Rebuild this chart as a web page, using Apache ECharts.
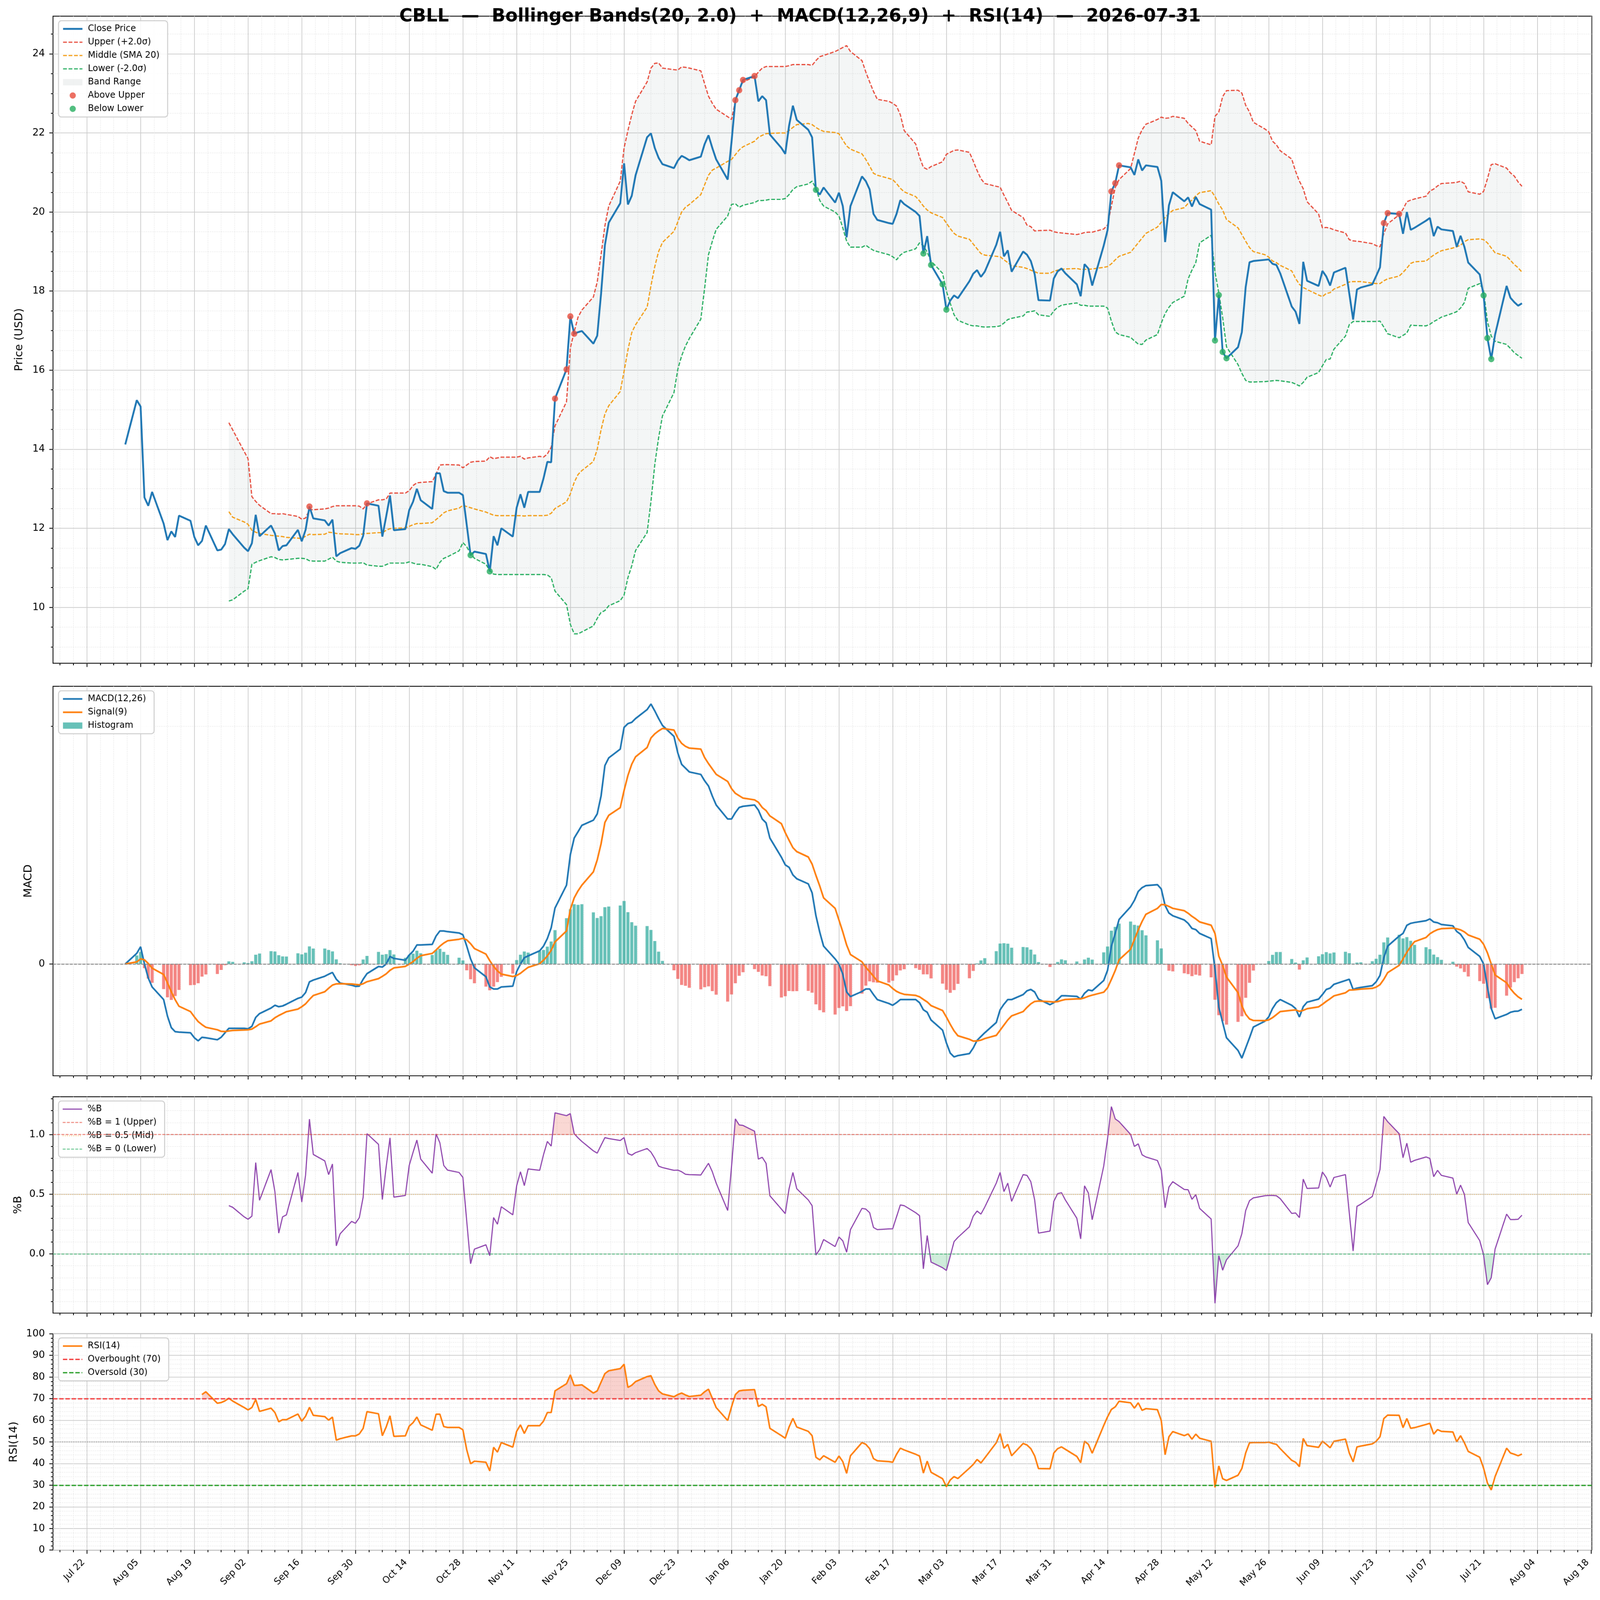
<!DOCTYPE html>
<html>
<head>
<meta charset="utf-8">
<title>CBLL - Bollinger Bands + MACD + RSI</title>
<script src="https://cdn.jsdelivr.net/npm/echarts@6.0.0/dist/echarts.min.js"></script>
<style>
  html, body { margin: 0; padding: 0; background: #fff; overflow: hidden; }
  #chart { width: 4378px; height: 4322px; transform-origin: 0 0; }
</style>
</head>
<body>
<div id="chart"></div>
<script>
// trading days are weekdays between these two dates
const firstDay = '2025-08-01';
const lastDay = '2026-07-31';

// x tick labels (every 14 days)
const xTickDates = [
  '2025-07-22', '2025-08-05', '2025-08-19', '2025-09-02', '2025-09-16', '2025-09-30',
  '2025-10-14', '2025-10-28', '2025-11-11', '2025-11-25', '2025-12-09', '2025-12-23',
  '2026-01-06', '2026-01-20', '2026-02-03', '2026-02-17', '2026-03-03', '2026-03-17',
  '2026-03-31', '2026-04-14', '2026-04-28', '2026-05-12', '2026-05-26', '2026-06-09',
  '2026-06-23', '2026-07-07', '2026-07-21', '2026-08-04', '2026-08-18'
];
const priceTicks = [10, 12, 14, 16, 18, 20, 22, 24];
const macdTicks = [0];
const pctBTicks = [0, 0.5, 1.0];
const rsiTicks = [0, 10, 20, 30, 40, 50, 60, 70, 80, 90, 100];

// close price, one value per trading day
const close = [
  14.12,
  15.24, 15.08, 12.78, 12.57, 12.92,   // Aug 4
  12.12, 11.70, 11.92, 11.78, 12.32,   // Aug 11
  12.19, 11.78, 11.57, 11.68, 12.07,   // Aug 18
  11.44, 11.46, 11.60, 11.98, 11.85,   // Aug 25
  11.51, 11.42, 11.62, 12.34, 11.80,   // Sep 1
  12.07, 11.87, 11.44, 11.55, 11.57,   // Sep 8
  11.96, 11.67, 11.96, 12.55, 12.25,   // Sep 15
  12.20, 12.07, 12.22, 11.29, 11.37,   // Sep 22
  11.50, 11.48, 11.56, 11.81, 12.63,   // Sep 29
  12.57, 11.79, 12.30, 12.83, 11.95,   // Oct 6
  11.98, 12.46, 12.67, 13.00, 12.71,   // Oct 13
  12.49, 13.39, 13.39, 12.94, 12.90,   // Oct 20
  12.90, 12.84, 12.08, 11.32, 11.41,   // Oct 27
  11.35, 10.91, 11.80, 11.57, 12.00,   // Nov 3
  11.79, 12.52, 12.86, 12.52, 12.92,   // Nov 10
  12.92, 13.26, 13.68, 13.67, 15.28,   // Nov 17
  16.02, 17.36, 16.92, 16.96, 16.99,   // Nov 24
  16.67, 16.87, 17.93, 19.16, 19.73,   // Dec 1
  20.22, 21.23, 20.19, 20.41, 20.93,   // Dec 8
  21.89, 21.99, 21.62, 21.37, 21.21,   // Dec 15
  21.11, 21.30, 21.42, 21.37, 21.31,   // Dec 22
  21.40, 21.72, 21.94, 21.62, 21.33,   // Dec 29
  20.82, 21.77, 22.83, 23.08, 23.34,   // Jan 5
  23.44, 22.80, 22.93, 22.83, 21.96,   // Jan 12
  21.62, 21.47, 22.18, 22.69, 22.33,   // Jan 19
  22.08, 21.89, 20.56, 20.44, 20.62,   // Jan 26
  20.24, 20.49, 20.15, 19.36, 20.15,   // Feb 2
  20.90, 20.78, 20.57, 19.95, 19.80,   // Feb 9
  19.72, 19.70, 19.95, 20.30, 20.20,   // Feb 16
  20.00, 19.90, 18.95, 19.39, 18.66,   // Feb 23
  18.17, 17.53, 17.76, 17.89, 17.82,   // Mar 2
  18.25, 18.44, 18.53, 18.36, 18.49,   // Mar 9
  19.17, 19.50, 18.88, 19.03, 18.49,   // Mar 16
  19.00, 18.92, 18.76, 18.43, 17.77,   // Mar 23
  17.76, 18.32, 18.50, 18.57, 18.45,   // Mar 30
  18.17, 17.87, 18.68, 18.57, 18.14,   // Apr 6
  19.15, 19.54, 20.52, 20.73, 21.18,   // Apr 13
  21.13, 20.94, 21.33, 21.05, 21.18,   // Apr 20
  21.14, 20.79, 19.24, 20.17, 20.50,   // Apr 27
  20.27, 20.37, 20.14, 20.38, 20.20,   // May 4
  20.06, 16.75, 17.90, 16.46, 16.30,   // May 11
  16.58, 16.96, 18.10, 18.73, 18.76,   // May 18
  18.79, 18.80, 18.69, 18.66, 18.45,   // May 25
  17.61, 17.48, 17.17, 18.74, 18.26,   // Jun 1
  18.13, 18.51, 18.37, 18.14, 18.47,   // Jun 8
  18.59, 17.94, 17.28, 18.04, 18.09,   // Jun 15
  18.17, 18.38, 18.60, 19.72, 19.97,   // Jun 22
  19.95, 19.45, 20.00, 19.55, 19.60,   // Jun 29
  19.78, 19.85, 19.39, 19.63, 19.56,   // Jul 6
  19.52, 19.12, 19.40, 19.12, 18.72,   // Jul 13
  18.42, 17.89, 16.81, 16.28, 16.90,   // Jul 20
  18.13, 17.83, 17.72, 17.63, 17.69    // Jul 27
];

// bollinger bands start on the 20th trading day (2025-08-28)
const bandStart = 19;
const upper = [
  14.67, 14.49,
  13.94, 13.76, 12.80, 12.68, 12.58,   // Sep 1
  12.37, 12.37, 12.36, 12.37, 12.35,   // Sep 8
  12.30, 12.23, 12.26, 12.47, 12.47,   // Sep 15
  12.49, 12.51, 12.55, 12.57, 12.57,   // Sep 22
  12.57, 12.57, 12.56, 12.49, 12.62,   // Sep 29
  12.72, 12.72, 12.74, 12.89, 12.89,   // Oct 6
  12.89, 12.95, 13.08, 13.15, 13.16,   // Oct 13
  13.18, 13.37, 13.60, 13.61, 13.61,   // Oct 20
  13.60, 13.53, 13.60, 13.67, 13.69,   // Oct 27
  13.70, 13.81, 13.76, 13.78, 13.80,   // Nov 3
  13.80, 13.80, 13.82, 13.75, 13.78,   // Nov 10
  13.82, 13.80, 13.88, 14.05, 14.59,   // Nov 17
  15.20, 16.56, 16.97, 17.34, 17.52,   // Nov 24
  17.85, 18.23, 18.92, 19.65, 20.15,   // Dec 1
  20.78, 21.62, 22.06, 22.46, 22.80,   // Dec 8
  23.29, 23.64, 23.76, 23.77, 23.64,   // Dec 15
  23.60, 23.59, 23.67, 23.66, 23.64,   // Dec 22
  23.57, 23.24, 22.93, 22.75, 22.60,   // Dec 29
  22.41, 22.34, 22.80, 23.10, 23.29,   // Jan 5
  23.42, 23.54, 23.64, 23.68, 23.68,   // Jan 12
  23.68, 23.68, 23.70, 23.73, 23.73,   // Jan 19
  23.73, 23.71, 23.83, 23.93, 23.96,   // Jan 26
  24.06, 24.11, 24.16, 24.21, 24.06,   // Feb 2
  23.83, 23.54, 23.29, 23.05, 22.85,   // Feb 9
  22.80, 22.75, 22.68, 22.46, 22.06,   // Feb 16
  21.72, 21.39, 21.13, 21.08, 21.15,   // Feb 23
  21.27, 21.46, 21.51, 21.56, 21.57,   // Mar 2
  21.51, 21.29, 21.05, 20.84, 20.72,   // Mar 9
  20.65, 20.63, 20.43, 20.24, 20.04,   // Mar 16
  19.86, 19.67, 19.63, 19.52, 19.53,   // Mar 23
  19.54, 19.50, 19.48, 19.47, 19.46,   // Mar 30
  19.43, 19.45, 19.48, 19.49, 19.49,   // Apr 6
  19.57, 19.67, 20.15, 20.62, 20.82,   // Apr 13
  21.10, 21.48, 21.87, 22.08, 22.22,   // Apr 20
  22.34, 22.40, 22.37, 22.38, 22.42,   // Apr 27
  22.37, 22.24, 22.15, 22.06, 21.79,   // May 4
  21.70, 22.42, 22.53, 22.92, 23.07,   // May 11
  23.08, 23.01, 22.70, 22.53, 22.27,   // May 18
  22.10, 22.03, 21.79, 21.70, 21.55,   // May 25
  21.34, 21.03, 20.78, 20.59, 20.26,   // Jun 1
  19.95, 19.60, 19.61, 19.59, 19.55,   // Jun 8
  19.47, 19.30, 19.27, 19.26, 19.25,   // Jun 15
  19.20, 19.15, 19.12, 19.45, 19.70,   // Jun 22
  19.93, 20.07, 20.26, 20.30, 20.33,   // Jun 29
  20.40, 20.53, 20.58, 20.66, 20.72,   // Jul 6
  20.74, 20.75, 20.78, 20.72, 20.51,   // Jul 13
  20.45, 20.52, 20.84, 21.20, 21.22,   // Jul 20
  21.11, 20.99, 20.91, 20.76, 20.65    // Jul 27
];
const middle = [
  12.42, 12.28,
  12.16, 12.10, 11.95, 11.90, 11.87,   // Sep 1
  11.82, 11.81, 11.80, 11.79, 11.77,   // Sep 8
  11.75, 11.74, 11.80, 11.85, 11.84,   // Sep 15
  11.85, 11.90, 11.89, 11.87, 11.86,   // Sep 22
  11.85, 11.84, 11.84, 11.86, 11.87,   // Sep 29
  11.89, 11.89, 11.95, 11.99, 12.00,   // Oct 6
  12.01, 12.05, 12.09, 12.12, 12.12,   // Oct 13
  12.14, 12.22, 12.30, 12.39, 12.44,   // Oct 20
  12.51, 12.58, 12.55, 12.52, 12.49,   // Oct 27
  12.41, 12.37, 12.33, 12.32, 12.32,   // Nov 3
  12.32, 12.32, 12.32, 12.31, 12.32,   // Nov 10
  12.32, 12.32, 12.33, 12.38, 12.50,   // Nov 17
  12.67, 12.87, 13.16, 13.36, 13.46,   // Nov 24
  13.69, 14.00, 14.49, 14.89, 15.10,   // Dec 1
  15.46, 15.97, 16.51, 16.95, 17.15,   // Dec 8
  17.59, 18.13, 18.62, 19.00, 19.23,   // Dec 15
  19.51, 19.75, 20.00, 20.12, 20.19,   // Dec 22
  20.44, 20.69, 20.93, 21.06, 21.11,   // Dec 29
  21.28, 21.33, 21.45, 21.57, 21.65,   // Jan 5
  21.79, 21.89, 21.94, 21.98, 21.99,   // Jan 12
  22.00, 22.00, 22.06, 22.14, 22.21,   // Jan 19
  22.24, 22.21, 22.14, 22.08, 22.04,   // Jan 26
  22.01, 21.98, 21.82, 21.67, 21.59,   // Feb 2
  21.47, 21.33, 21.16, 20.98, 20.93,   // Feb 9
  20.85, 20.82, 20.72, 20.60, 20.51,   // Feb 16
  20.39, 20.28, 20.15, 20.05, 19.98,   // Feb 23
  19.86, 19.72, 19.58, 19.46, 19.39,   // Mar 2
  19.31, 19.19, 19.07, 18.95, 18.91,   // Mar 9
  18.88, 18.87, 18.79, 18.72, 18.64,   // Mar 16
  18.60, 18.57, 18.53, 18.49, 18.45,   // Mar 23
  18.45, 18.50, 18.53, 18.55, 18.56,   // Mar 30
  18.57, 18.55, 18.55, 18.55, 18.56,   // Apr 6
  18.60, 18.62, 18.69, 18.79, 18.88,   // Apr 13
  18.98, 19.10, 19.22, 19.34, 19.46,   // Apr 20
  19.62, 19.74, 19.86, 19.96, 20.04,   // Apr 27
  20.11, 20.22, 20.30, 20.41, 20.49,   // May 4
  20.54, 20.39, 20.20, 20.05, 19.81,   // May 11
  19.60, 19.43, 19.26, 19.10, 19.00,   // May 18
  18.92, 18.86, 18.76, 18.72, 18.65,   // May 25
  18.51, 18.32, 18.17, 18.09, 18.04,   // Jun 1
  17.90, 17.86, 17.94, 17.96, 18.05,   // Jun 8
  18.17, 18.23, 18.24, 18.24, 18.24,   // Jun 15
  18.20, 18.19, 18.19, 18.26, 18.31,   // Jun 22
  18.38, 18.47, 18.58, 18.70, 18.74,   // Jun 29
  18.76, 18.84, 18.91, 18.97, 19.02,   // Jul 6
  19.09, 19.12, 19.16, 19.25, 19.30,   // Jul 13
  19.32, 19.30, 19.22, 19.09, 18.97,   // Jul 20
  18.88, 18.78, 18.67, 18.59, 18.48    // Jul 27
];
const lower = [
  10.16, 10.19,
  10.41, 10.47, 11.09, 11.14, 11.18,   // Sep 1
  11.28, 11.26, 11.21, 11.20, 11.21,   // Sep 8
  11.24, 11.24, 11.23, 11.18, 11.17,   // Sep 15
  11.17, 11.22, 11.27, 11.17, 11.14,   // Sep 22
  11.12, 11.12, 11.12, 11.13, 11.07,   // Sep 29
  11.04, 11.04, 11.08, 11.12, 11.12,   // Oct 6
  11.12, 11.15, 11.12, 11.09, 11.09,   // Oct 13
  11.03, 10.96, 11.14, 11.24, 11.28,   // Oct 20
  11.43, 11.64, 11.53, 11.36, 11.24,   // Oct 27
  11.09, 10.93, 10.84, 10.83, 10.83,   // Nov 3
  10.83, 10.83, 10.83, 10.83, 10.83,   // Nov 10
  10.83, 10.83, 10.82, 10.75, 10.41,   // Nov 17
  10.07, 9.57, 9.33, 9.33, 9.38,       // Nov 24
  9.53, 9.72, 9.87, 9.92, 10.04,       // Dec 1
  10.17, 10.31, 10.75, 11.05, 11.44,   // Dec 8
  11.89, 12.67, 13.61, 14.29, 14.84,   // Dec 15
  15.43, 16.02, 16.36, 16.61, 16.80,   // Dec 22
  17.29, 18.08, 18.92, 19.26, 19.56,   // Dec 29
  19.90, 20.19, 20.21, 20.12, 20.17,   // Jan 5
  20.24, 20.29, 20.29, 20.30, 20.32,   // Jan 12
  20.32, 20.34, 20.44, 20.57, 20.64,   // Jan 19
  20.71, 20.78, 20.60, 20.29, 20.15,   // Jan 26
  20.00, 19.90, 19.60, 19.26, 19.11,   // Feb 2
  19.11, 19.16, 19.09, 19.03, 19.00,   // Feb 9
  18.92, 18.87, 18.79, 18.91, 18.98,   // Feb 16
  19.07, 19.22, 19.15, 18.98, 18.76,   // Feb 23
  18.45, 18.00, 17.69, 17.40, 17.26,   // Mar 2
  17.14, 17.12, 17.12, 17.10, 17.09,   // Mar 9
  17.10, 17.12, 17.19, 17.28, 17.31,   // Mar 16
  17.37, 17.47, 17.48, 17.50, 17.40,   // Mar 23
  17.36, 17.50, 17.59, 17.64, 17.66,   // Mar 30
  17.70, 17.64, 17.64, 17.62, 17.62,   // Apr 6
  17.62, 17.57, 17.24, 16.97, 16.90,   // Apr 13
  16.83, 16.74, 16.66, 16.65, 16.76,   // Apr 20
  16.90, 17.19, 17.43, 17.59, 17.71,   // Apr 27
  17.87, 18.31, 18.53, 18.72, 19.22,   // May 4
  19.41, 18.48, 17.95, 17.33, 16.59,   // May 11
  16.14, 15.92, 15.74, 15.70, 15.70,   // May 18
  15.71, 15.72, 15.73, 15.74, 15.73,   // May 25
  15.69, 15.65, 15.60, 15.69, 15.82,   // Jun 1
  15.94, 16.11, 16.27, 16.28, 16.53,   // Jun 8
  16.86, 17.15, 17.23, 17.23, 17.23,   // Jun 15
  17.23, 17.23, 17.24, 17.09, 16.92,   // Jun 22
  16.82, 16.88, 16.94, 17.14, 17.13,   // Jun 29
  17.12, 17.16, 17.23, 17.28, 17.34,   // Jul 6
  17.44, 17.48, 17.57, 17.71, 18.07,   // Jul 13
  18.19, 18.01, 17.23, 16.86, 16.73,   // Jul 20
  16.65, 16.55, 16.44, 16.37, 16.30    // Jul 27
];

// close outside the bands (marked with dots)
const aboveUpperDates = [
  '2025-09-18', '2025-10-03', '2025-11-21', '2025-11-24', '2025-11-25', '2025-11-26',
  '2026-01-07', '2026-01-08', '2026-01-09', '2026-01-12', '2026-04-15', '2026-04-16',
  '2026-04-17', '2026-06-25', '2026-06-26', '2026-06-29'
];
const belowLowerDates = [
  '2025-10-30', '2025-11-04', '2026-01-28', '2026-02-25', '2026-02-27', '2026-03-02',
  '2026-03-03', '2026-05-12', '2026-05-13', '2026-05-14', '2026-05-15', '2026-07-21',
  '2026-07-22', '2026-07-23'
];

// MACD(12,26), signal(9) and histogram, one value per trading day
const macd = [
  0,
  0.090, 0.145, 0.000, -0.118, -0.193,
  -0.299, -0.438, -0.535, -0.569, -0.573,
  -0.578, -0.620, -0.646, -0.616, -0.620,
  -0.637, -0.616, -0.578, -0.541, -0.541,
  -0.541, -0.545, -0.524, -0.449, -0.417,
  -0.370, -0.347, -0.359, -0.353, -0.338,
  -0.289, -0.278, -0.240, -0.150, -0.135,
  -0.103, -0.086, -0.071, -0.128, -0.160,
  -0.178, -0.188, -0.186, -0.128, -0.081,
  -0.021, -0.026, 0.000, 0.064, 0.047,
  0.032, 0.075, 0.107, 0.160, 0.160,
  0.165, 0.235, 0.278, 0.278, 0.272,
  0.261, 0.246, 0.150, 0.043, -0.032,
  -0.107, -0.193, -0.210, -0.210, -0.193,
  -0.186, -0.064, 0.000, 0.053, 0.068,
  0.111, 0.150, 0.214, 0.304, 0.471,
  0.663, 0.920, 1.059, 1.112, 1.166,
  1.209, 1.262, 1.412, 1.668, 1.733,
  1.807, 1.989, 2.021, 2.032, 2.064,
  2.139, 2.186, 2.128, 2.064, 2.006,
  1.914, 1.775, 1.679, 1.647, 1.615,
  1.594, 1.540, 1.497, 1.412, 1.337,
  1.219, 1.219, 1.273, 1.316, 1.326,
  1.337, 1.294, 1.219, 1.187, 1.059,
  0.898, 0.834, 0.813, 0.749, 0.717,
  0.674, 0.599, 0.406, 0.267, 0.150,
  0.043, 0.000, -0.086, -0.235, -0.274,
  -0.231, -0.210, -0.210, -0.257, -0.299,
  -0.332, -0.347, -0.325, -0.299, -0.299,
  -0.299, -0.325, -0.385, -0.406, -0.471,
  -0.556, -0.663, -0.749, -0.781, -0.770,
  -0.753, -0.706, -0.642, -0.610, -0.578,
  -0.492, -0.385, -0.338, -0.299, -0.299,
  -0.257, -0.225, -0.214, -0.235, -0.295,
  -0.342, -0.325, -0.299, -0.267, -0.267,
  -0.272, -0.295, -0.246, -0.218, -0.225,
  -0.139, -0.053, 0.150, 0.257, 0.374,
  0.481, 0.535, 0.610, 0.642, 0.659,
  0.667, 0.631, 0.492, 0.428, 0.406,
  0.370, 0.342, 0.299, 0.289, 0.257,
  0.214, -0.043, -0.364, -0.492, -0.620,
  -0.727, -0.791, -0.706, -0.620, -0.530,
  -0.481, -0.445, -0.374, -0.325, -0.299,
  -0.347, -0.374, -0.445, -0.359, -0.321,
  -0.295, -0.257, -0.214, -0.203, -0.171,
  -0.139, -0.128, -0.214, -0.203, -0.197,
  -0.182, -0.150, -0.096, 0.053, 0.150,
  0.235, 0.257, 0.325, 0.342, 0.349,
  0.364, 0.379, 0.353, 0.347, 0.332,
  0.321, 0.274, 0.250, 0.203, 0.139,
  0.064, 0.000, -0.193, -0.374, -0.460,
  -0.424, -0.406, -0.398, -0.396, -0.381
];
const signal = [
  0,
  0.018, 0.043, 0.035, 0.004, -0.035,
  -0.088, -0.158, -0.233, -0.300, -0.355,
  -0.400, -0.444, -0.484, -0.510, -0.532,
  -0.553, -0.566, -0.568, -0.563, -0.559,
  -0.555, -0.553, -0.547, -0.527, -0.505,
  -0.478, -0.452, -0.433, -0.417, -0.401,
  -0.379, -0.359, -0.335, -0.298, -0.265,
  -0.233, -0.204, -0.177, -0.167, -0.166,
  -0.168, -0.172, -0.175, -0.166, -0.149,
  -0.123, -0.104, -0.083, -0.053, -0.033,
  -0.020, -0.001, 0.020, 0.048, 0.070,
  0.089, 0.118, 0.150, 0.176, 0.195,
  0.208, 0.216, 0.203, 0.171, 0.130,
  0.083, 0.028, -0.020, -0.058, -0.085,
  -0.105, -0.097, -0.078, -0.052, -0.028,
  0.003, 0.032, 0.068, 0.115, 0.186,
  0.278, 0.460, 0.556, 0.615, 0.663,
  0.775, 0.875, 1.010, 1.190, 1.250,
  1.315, 1.459, 1.585, 1.680, 1.742,
  1.820, 1.900, 1.935, 1.960, 1.980,
  1.967, 1.900, 1.855, 1.830, 1.815,
  1.807, 1.735, 1.685, 1.640, 1.595,
  1.535, 1.475, 1.435, 1.415, 1.395,
  1.380, 1.360, 1.316, 1.290, 1.245,
  1.180, 1.105, 1.040, 0.978, 0.945,
  0.900, 0.840, 0.745, 0.655, 0.556,
  0.468, 0.370, 0.270, 0.160, 0.080,
  0.018, -0.028, -0.064, -0.103, -0.142,
  -0.176, -0.206, -0.230, -0.245, -0.255,
  -0.264, -0.276, -0.298, -0.319, -0.350,
  -0.391, -0.446, -0.507, -0.562, -0.603,
  -0.633, -0.648, -0.647, -0.640, -0.627,
  -0.600, -0.557, -0.513, -0.470, -0.436,
  -0.400, -0.365, -0.335, -0.315, -0.311,
  -0.317, -0.320, -0.316, -0.306, -0.298,
  -0.293, -0.293, -0.284, -0.271, -0.262,
  -0.237, -0.200, -0.130, -0.055, 0.035,
  0.124, 0.206, 0.287, 0.358, 0.418,
  0.468, 0.500, 0.498, 0.484, 0.468,
  0.448, 0.427, 0.401, 0.379, 0.354,
  0.326, 0.257, 0.066, -0.012, -0.110,
  -0.241, -0.351, -0.422, -0.462, -0.475,
  -0.476, -0.470, -0.451, -0.426, -0.400,
  -0.389, -0.386, -0.398, -0.390, -0.376,
  -0.360, -0.339, -0.314, -0.292, -0.268,
  -0.242, -0.219, -0.218, -0.215, -0.211,
  -0.205, -0.194, -0.174, -0.129, -0.073,
  -0.011, 0.042, 0.099, 0.147, 0.188,
  0.223, 0.254, 0.274, 0.289, 0.297,
  0.302, 0.296, 0.287, 0.270, 0.244,
  0.208, 0.166, 0.094, 0.000, -0.092,
  -0.158, -0.208, -0.246, -0.276, -0.297
];
const hist = [
  0,
  0.072, 0.102, -0.035, -0.122, -0.158,
  -0.211, -0.280, -0.302, -0.269, -0.218,
  -0.178, -0.176, -0.162, -0.106, -0.088,
  -0.084, -0.050, -0.010, 0.022, 0.018,
  0.014, 0.008, 0.023, 0.078, 0.088,
  0.108, 0.105, 0.074, 0.064, 0.063,
  0.090, 0.081, 0.095, 0.148, 0.130,
  0.130, 0.118, 0.106, 0.039, 0.006,
  -0.010, -0.016, -0.011, 0.038, 0.068,
  0.102, 0.078, 0.083, 0.117, 0.080,
  0.052, 0.076, 0.087, 0.112, 0.090,
  0.076, 0.117, 0.128, 0.102, 0.077,
  0.053, 0.030, -0.053, -0.128, -0.162,
  -0.190, -0.221, -0.190, -0.152, -0.108,
  -0.081, 0.033, 0.078, 0.105, 0.096,
  0.108, 0.118, 0.146, 0.189, 0.285,
  0.385, 0.460, 0.503, 0.497, 0.503,
  0.434, 0.387, 0.402, 0.478, 0.483,
  0.492, 0.530, 0.436, 0.352, 0.322,
  0.319, 0.286, 0.193, 0.104, 0.026,
  -0.053, -0.125, -0.176, -0.183, -0.200,
  -0.213, -0.195, -0.188, -0.228, -0.258,
  -0.316, -0.256, -0.162, -0.099, -0.069,
  -0.043, -0.066, -0.097, -0.103, -0.186,
  -0.282, -0.271, -0.227, -0.229, -0.228,
  -0.226, -0.241, -0.339, -0.388, -0.406,
  -0.425, -0.370, -0.356, -0.395, -0.354,
  -0.249, -0.182, -0.146, -0.154, -0.157,
  -0.156, -0.141, -0.095, -0.054, -0.044,
  -0.035, -0.049, -0.087, -0.087, -0.121,
  -0.165, -0.217, -0.242, -0.219, -0.167,
  -0.120, -0.058, 0.005, 0.030, 0.049,
  0.108, 0.172, 0.175, 0.171, 0.137,
  0.143, 0.140, 0.121, 0.080, 0.016,
  -0.025, -0.005, 0.017, 0.039, 0.031,
  0.021, -0.002, 0.038, 0.053, 0.037,
  0.098, 0.147, 0.280, 0.312, 0.339,
  0.357, 0.329, 0.323, 0.284, 0.241,
  0.199, 0.131, -0.006, -0.056, -0.062,
  -0.078, -0.085, -0.102, -0.090, -0.097,
  -0.112, -0.300, -0.430, -0.480, -0.510,
  -0.486, -0.440, -0.284, -0.158, -0.055,
  -0.005, 0.025, 0.077, 0.101, 0.101,
  0.042, 0.012, -0.047, 0.031, 0.055,
  0.065, 0.082, 0.100, 0.089, 0.097,
  0.103, 0.091, 0.004, 0.012, 0.014,
  0.023, 0.044, 0.078, 0.182, 0.223,
  0.246, 0.215, 0.226, 0.195, 0.161,
  0.141, 0.125, 0.079, 0.058, 0.035,
  0.019, -0.022, -0.037, -0.067, -0.105,
  -0.144, -0.166, -0.287, -0.374, -0.368,
  -0.266, -0.198, -0.152, -0.120, -0.084
];

// %B, same start as the bands
const pctB = [
  0.404, 0.390,
  0.310, 0.290, 0.316, 0.765, 0.449,   // Sep 1
  0.706, 0.520, 0.174, 0.310, 0.327,   // Sep 8
  0.682, 0.434, 0.660, 1.129, 0.833,   // Sep 15
  0.779, 0.664, 0.753, 0.067, 0.168,   // Sep 22
  0.272, 0.256, 0.304, 0.475, 1.007,   // Sep 29
  0.918, 0.455, 0.730, 0.972, 0.475,   // Oct 6
  0.489, 0.741, 0.850, 0.954, 0.794,   // Oct 13
  0.676, 1.005, 0.930, 0.741, 0.702,   // Oct 20
  0.682, 0.640, 0.270, -0.083, 0.040,  // Oct 27
  0.076, -0.015, 0.304, 0.248, 0.395,  // Nov 3
  0.327, 0.570, 0.688, 0.572, 0.712,   // Nov 10
  0.700, 0.830, 0.942, 0.903, 1.182,   // Nov 17
  1.158, 1.175, 1.007, 0.972, 0.942,   // Nov 24
  0.863, 0.844, 0.910, 0.974, 0.966,   // Dec 1
  0.950, 0.974, 0.842, 0.827, 0.848,   // Dec 8
  0.883, 0.853, 0.800, 0.735, 0.723,   // Dec 15
  0.700, 0.702, 0.688, 0.667, 0.664,   // Dec 22
  0.661, 0.710, 0.759, 0.688, 0.593,   // Dec 29
  0.363, 0.730, 1.131, 1.080, 1.076,   // Jan 5
  1.028, 0.794, 0.809, 0.759, 0.487,   // Jan 12
  0.375, 0.337, 0.546, 0.682, 0.546,   // Jan 19
  0.452, 0.404, -0.010, 0.038, 0.120,  // Jan 26
  0.061, 0.142, 0.109, 0.014, 0.203,   // Feb 2
  0.381, 0.375, 0.345, 0.221, 0.203,   // Feb 9
  0.209, 0.210, 0.310, 0.410, 0.404,   // Feb 16
  0.345, 0.320, -0.125, 0.154, -0.069, // Feb 23
  -0.116, -0.139, -0.020, 0.103, 0.138,// Mar 2
  0.227, 0.316, 0.359, 0.333, 0.392,   // Mar 9
  0.593, 0.682, 0.522, 0.593, 0.440,   // Mar 16
  0.664, 0.658, 0.605, 0.452, 0.174,   // Mar 23
  0.191, 0.440, 0.505, 0.513, 0.452,   // Mar 30
  0.298, 0.126, 0.570, 0.510, 0.286,   // Apr 6
  0.735, 0.966, 1.234, 1.131, 1.108,   // Apr 13
  1.001, 0.900, 0.922, 0.830, 0.812,   // Apr 20
  0.782, 0.700, 0.386, 0.560, 0.605,   // Apr 27
  0.540, 0.537, 0.457, 0.496, 0.381,   // May 4
  0.292, -0.414, -0.015, -0.137, -0.050, // May 11
  0.067, 0.168, 0.363, 0.446, 0.469,   // May 18
  0.487, 0.489, 0.489, 0.487, 0.463,   // May 25
  0.339, 0.343, 0.304, 0.626, 0.548,   // Jun 1
  0.552, 0.686, 0.640, 0.560, 0.640,   // Jun 8
  0.664, 0.345, 0.024, 0.398, 0.416,   // Jun 15
  0.481, 0.593, 0.706, 1.151, 1.108,   // Jun 22
  1.007, 0.806, 0.927, 0.768, 0.783,   // Jun 29
  0.812, 0.800, 0.647, 0.700, 0.658,   // Jul 6
  0.635, 0.500, 0.576, 0.499, 0.262,   // Jul 13
  0.111, -0.010, -0.258, -0.200, 0.040,// Jul 20
  0.333, 0.288, 0.288, 0.290, 0.324    // Jul 27
];

// RSI(14) starts on the 15th trading day (2025-08-21)
const rsiStart = 14;
const rsi = [
  71.9, 73.2,
  67.9, 68.2, 69.0, 70.2, 68.9,   // Aug 25
  65.9, 64.8, 65.9, 69.6, 64.1,   // Sep 1
  65.6, 63.6, 59.3, 60.3, 60.3,   // Sep 8
  62.9, 59.6, 61.9, 66.0, 62.3,   // Sep 15
  61.7, 60.1, 61.5, 50.8, 51.5,   // Sep 22
  52.8, 52.8, 53.7, 56.3, 64.0,   // Sep 29
  63.0, 52.9, 56.9, 62.1, 52.6,   // Oct 6
  52.8, 57.3, 58.9, 61.5, 57.9,   // Oct 13
  55.4, 62.8, 62.8, 57.1, 56.7,   // Oct 20
  56.7, 55.6, 46.3, 39.9, 41.1,   // Oct 27
  40.6, 36.6, 47.5, 45.3, 49.7,   // Nov 3
  47.6, 54.9, 57.9, 53.9, 57.5,   // Nov 10
  57.5, 59.6, 63.6, 63.6, 73.6,   // Nov 17
  76.9, 81.0, 76.1, 76.2, 76.4,   // Nov 24
  72.6, 73.6, 77.6, 81.6, 82.9,   // Dec 1
  83.9, 85.9, 75.2, 76.2, 77.9,   // Dec 8
  80.2, 80.6, 76.6, 73.6, 72.2,   // Dec 15
  70.9, 71.9, 72.6, 71.7, 71.0,   // Dec 22
  71.6, 73.2, 74.4, 70.2, 65.9,   // Dec 29
  59.9, 66.2, 71.9, 73.6, 73.9,   // Jan 5
  74.2, 66.4, 67.4, 66.2, 56.3,   // Jan 12
  52.9, 51.7, 56.9, 60.9, 56.9,   // Jan 19
  54.9, 52.9, 42.9, 41.7, 43.6,   // Jan 26
  40.6, 43.5, 40.9, 35.5, 43.6,   // Feb 2
  49.7, 48.9, 46.9, 42.3, 41.3,   // Feb 9
  40.9, 40.6, 44.3, 47.1, 46.3,   // Feb 16
  44.3, 43.5, 35.6, 41.1, 36.0,   // Feb 23
  33.0, 29.3, 32.4, 34.0, 33.1,   // Mar 2
  37.9, 39.6, 41.9, 40.3, 42.6,   // Mar 9
  49.6, 53.9, 47.1, 48.9, 43.6,   // Mar 16
  49.3, 48.6, 46.9, 43.6, 37.7,   // Mar 23
  37.6, 44.9, 46.9, 47.7, 46.6,   // Mar 30
  43.3, 40.4, 50.3, 48.9, 44.8,   // Apr 6
  57.6, 61.6, 65.0, 66.2, 68.8,   // Apr 13
  68.1, 65.6, 68.1, 64.6, 65.4,   // Apr 20
  64.9, 59.9, 44.1, 52.4, 54.8,   // Apr 27
  52.9, 53.7, 51.3, 53.6, 51.7,   // May 4
  50.3, 29.0, 38.9, 33.0, 32.2,   // May 11
  34.6, 37.7, 44.9, 49.6, 49.7,   // May 18
  49.7, 49.9, 49.3, 48.9, 46.9,   // May 25
  41.5, 40.6, 38.6, 51.6, 48.3,   // Jun 1
  47.5, 50.3, 48.9, 47.3, 50.3,   // Jun 8
  51.3, 44.9, 40.8, 47.7, 48.1,   // Jun 15
  49.1, 50.3, 52.4, 60.8, 62.4,   // Jun 22
  62.3, 56.6, 60.8, 56.3, 56.6,   // Jun 29
  58.1, 58.6, 53.6, 55.7, 54.9,   // Jul 6
  54.6, 50.1, 52.9, 49.6, 45.6,   // Jul 13
  42.9, 37.9, 31.0, 27.8, 34.0,   // Jul 20
  47.1, 44.9, 44.3, 43.6, 44.4    // Jul 27
];

// ---------------------------------------------------------------
const W = 4378, H = 4322;
const DAY = 864e5;
const ORIGIN = Date.parse(xTickDates[0] + 'T00:00:00Z');
const MONTHS = ['Jan', 'Feb', 'Mar', 'Apr', 'May', 'Jun', 'Jul', 'Aug', 'Sep', 'Oct', 'Nov', 'Dec'];
const X_MIN = -8.83, X_MAX = 392.2;

function toX(iso) {
  return (Date.parse(iso + 'T00:00:00Z') - ORIGIN) / DAY;
}
function fmtDate(v) {
  const d = new Date(ORIGIN + Math.round(v) * DAY);
  return MONTHS[d.getUTCMonth()] + ' ' + String(d.getUTCDate()).padStart(2, '0');
}

const tradeX = [];
for (let t = Date.parse(firstDay + 'T00:00:00Z'); t <= Date.parse(lastDay + 'T00:00:00Z'); t += DAY) {
  const wd = new Date(t).getUTCDay();
  if (wd !== 0 && wd !== 6) tradeX.push((t - ORIGIN) / DAY);
}
if (tradeX.length !== close.length) console.error('day count', tradeX.length, close.length);

const bandX = tradeX.slice(bandStart);
const rsiX = tradeX.slice(rsiStart);
const pairs = (xs, ys) => ys.map((v, i) => [xs[i], v]);

const markerPts = dates => dates.map(d => {
  const x = toX(d);
  return [x, close[tradeX.indexOf(x)]];
});

// parts of a curve beyond a level, closed on the level line
function beyond(xs, ys, level, above) {
  const polys = [];
  let cur = null;
  const inside = i => above ? ys[i] > level : ys[i] < level;
  for (let i = 0; i < ys.length; i++) {
    const inI = inside(i);
    if (i > 0 && inside(i - 1) !== inI) {
      const t = (level - ys[i - 1]) / (ys[i] - ys[i - 1]);
      const xc = xs[i - 1] + t * (xs[i] - xs[i - 1]);
      if (inI) {
        cur = [[xc, level]];
      } else {
        cur.push([xc, level]);
        polys.push(cur);
        cur = null;
      }
    } else if (i === 0 && inI) {
      cur = [[xs[0], level]];
    }
    if (inI) cur.push([xs[i], ys[i]]);
  }
  if (cur) {
    cur.push([xs[xs.length - 1], level]);
    polys.push(cur);
  }
  return polys;
}

// axis tick positions
const majorX = xTickDates.map(toX);
const minorX = [];
for (let v = -7; v < X_MAX; v += 3.5) if (v % 14 !== 0) minorX.push(v);

function steps(from, to, step, skipEvery) {
  const out = [];
  for (let k = Math.round(from / step); k * step <= to + 1e-9; k++) {
    if (k % skipEvery !== 0) out.push(+(k * step).toFixed(4));
  }
  return out;
}
const priceMinor = steps(9, 24.5, 0.5, 4);
const macdMinor = [2];
const pctBMinor = steps(-0.4, 1.3, 0.1, 5);
const rsiMinor = steps(2, 98, 2, 5);

const GRID_LEFT = 145, GRID_RIGHT = 22.5;
const gridBoxes = [
  { top: 43.6, height: 1748 },
  { top: 1853.8, height: 1052.2 },
  { top: 2962.6, height: 584.4 },
  { top: 3602.8, height: 584.4 }
];
const yRanges = [
  [8.586, 24.954],
  [-0.94, 2.335],
  [-0.4964, 1.3164],
  [0, 100]
];

const MAJOR_GRID = { color: '#cdcdcd', width: 2 };
const MINOR_GRID = { color: '#e0e0e0', width: 1.5, type: [2, 3] };
const TICK_STYLE = { color: '#000', width: 2.2 };
const NO_FILL = 'rgba(0,0,0,0)';

const xAxes = [];
for (let i = 0; i < 4; i++) {
  xAxes.push({
    type: 'value', gridIndex: i, min: X_MIN, max: X_MAX, position: 'bottom',
    axisLine: { show: false, onZero: false },
    axisTick: { show: true, customValues: majorX, length: 10, lineStyle: TICK_STYLE },
    axisLabel: {
      show: i === 3, customValues: majorX, rotate: 45, margin: 20,
      padding: [0, 13, 0, 0],
      fontSize: 25, color: '#000', formatter: fmtDate
    },
    splitLine: { show: true, lineStyle: MAJOR_GRID }
  });
}
for (let i = 0; i < 4; i++) {
  xAxes.push({
    type: 'value', gridIndex: i, min: X_MIN, max: X_MAX, position: 'bottom',
    axisLine: { show: false, onZero: false },
    axisTick: { show: true, customValues: minorX, length: 5.6, lineStyle: TICK_STYLE },
    axisLabel: { show: false },
    splitLine: { show: true, lineStyle: MINOR_GRID }
  });
}

const yNames = ['Price (USD)', 'MACD', '%B', 'RSI(14)'];
const yNameGaps = [77, 52, 80, 92];
const yMajors = [priceTicks, macdTicks, pctBTicks, rsiTicks];
const yMinors = [priceMinor, macdMinor, pctBMinor, rsiMinor];
const yFormatters = [
  v => String(v),
  v => String(v),
  v => v.toFixed(1),
  v => String(v)
];
const yAxes = [];
for (let i = 0; i < 4; i++) {
  yAxes.push({
    type: 'value', gridIndex: i, min: yRanges[i][0], max: yRanges[i][1], position: 'left',
    name: yNames[i], nameLocation: 'middle', nameGap: yNameGaps[i],
    nameTextStyle: { fontSize: 30, color: '#000' },
    axisLine: { show: false, onZero: false },
    axisTick: { show: true, customValues: yMajors[i], length: 10, lineStyle: TICK_STYLE },
    axisLabel: { show: true, customValues: yMajors[i], fontSize: 27, color: '#000', margin: 22, formatter: yFormatters[i] },
    splitLine: { show: true, lineStyle: MAJOR_GRID }
  });
}
for (let i = 0; i < 4; i++) {
  yAxes.push({
    type: 'value', gridIndex: i, min: yRanges[i][0], max: yRanges[i][1], position: 'left',
    axisLine: { show: false, onZero: false },
    axisTick: { show: true, customValues: yMinors[i], length: 5.6, lineStyle: TICK_STYLE },
    axisLabel: { show: false },
    splitLine: { show: true, lineStyle: MINOR_GRID }
  });
}

const legendBase = {
  orient: 'vertical', left: 160,
  itemWidth: 53, itemHeight: 17, itemGap: 12,
  padding: [10, 22, 10, 10],
  backgroundColor: 'rgba(255,255,255,0.85)',
  borderColor: '#cccccc', borderWidth: 2.5, borderRadius: 8,
  lineStyle: { width: 'inherit' },
  textStyle: { fontSize: 24, color: '#000', lineHeight: 24, padding: [0, 0, 0, 10] },
  selectedMode: false
};

function fillSeries(gi, polys, fill, z) {
  return {
    type: 'custom', xAxisIndex: gi, yAxisIndex: gi, silent: true, z: z, clip: true,
    data: [[0, 0]],
    renderItem: (params, api) => ({
      type: 'group',
      children: polys.map(p => ({
        type: 'polygon',
        shape: { points: p.map(q => api.coord(q)) },
        style: { fill: fill }
      }))
    })
  };
}

function hLine(y, color, width, dash) {
  return { yAxis: y, lineStyle: { color: color, width: width, type: dash } };
}

// plain line series; itemStyle is transparent so the legend shows only the line
function lineSeries(name, gi, data, color, width, dash, z) {
  return {
    name: name, type: 'line', xAxisIndex: gi, yAxisIndex: gi, z: z,
    data: data, symbol: 'none',
    lineStyle: { color: color, width: width, type: dash || 'solid' },
    itemStyle: { color: NO_FILL }
  };
}

const bandPolygon = pairs(bandX, upper).concat(pairs(bandX, lower).reverse());

const C_UP = '#e74c3c', C_MID = '#f39c12', C_LOW = '#27ae60';
const BAND_DASH = [10.5, 4.5];

const macdLine = lineSeries('MACD(12,26)', 1, pairs(tradeX, macd), '#1f77b4', 4.5, null, 3);
macdLine.markLine = {
  silent: true, symbol: ['none', 'none'], label: { show: false },
  data: [hLine(0, '#8a8a8a', 2.6, [8, 3.5])]
};
const pctBLine = lineSeries('%B', 2, pairs(bandX, pctB), '#8e44ad', 3, null, 3);
pctBLine.markLine = {
  silent: true, symbol: ['none', 'none'], label: { show: false },
  data: [
    hLine(1, 'rgba(231,76,60,0.7)', 2.6, [8, 3.5]),
    hLine(0.5, 'rgba(243,156,18,0.55)', 2.6, [2.2, 3.7]),
    hLine(0, 'rgba(39,174,96,0.7)', 2.6, [8, 3.5])
  ]
};
const rsiLine = lineSeries('RSI(14)', 3, pairs(rsiX, rsi), '#ff7f0e', 4.2, null, 3);
rsiLine.markLine = {
  silent: true, symbol: ['none', 'none'], label: { show: false },
  data: [
    hLine(70, '#f23c3c', 3.3, [12, 5]),
    hLine(30, '#2ca02c', 3.3, [12, 5]),
    hLine(50, '#9a9a9a', 2.4, [2.4, 3.8])
  ]
};

const series = [
  // --- price panel
  {
    name: 'Band Range', type: 'custom', xAxisIndex: 0, yAxisIndex: 0, silent: true, z: 1, clip: true,
    itemStyle: { color: 'rgba(149,165,166,0.14)' },
    data: [[0, 0]],
    renderItem: (params, api) => ({
      type: 'polygon',
      shape: { points: bandPolygon.map(q => api.coord(q)) },
      style: { fill: 'rgba(149,165,166,0.1)' }
    })
  },
  lineSeries('Upper (+2.0σ)', 0, pairs(bandX, upper), C_UP, 3.2, BAND_DASH, 2),
  lineSeries('Middle (SMA 20)', 0, pairs(bandX, middle), C_MID, 3.2, BAND_DASH, 2),
  lineSeries('Lower (-2.0σ)', 0, pairs(bandX, lower), C_LOW, 3.2, BAND_DASH, 2),
  lineSeries('Close Price', 0, pairs(tradeX, close), '#1f77b4', 5, null, 3),
  {
    name: 'Above Upper', type: 'scatter', xAxisIndex: 0, yAxisIndex: 0, z: 5,
    data: markerPts(aboveUpperDates), symbol: 'circle', symbolSize: 17,
    itemStyle: { color: C_UP }
  },
  {
    name: 'Below Lower', type: 'scatter', xAxisIndex: 0, yAxisIndex: 0, z: 5,
    data: markerPts(belowLowerDates), symbol: 'circle', symbolSize: 17,
    itemStyle: { color: C_LOW }
  },

  // --- MACD panel
  {
    name: 'Histogram', type: 'bar', xAxisIndex: 1, yAxisIndex: 1, z: 2, barWidth: 8.4,
    itemStyle: { color: 'rgba(38,166,154,0.7)' },
    data: hist.map((v, i) => ({
      value: [tradeX[i], v],
      itemStyle: { color: v >= 0 ? 'rgba(38,166,154,0.7)' : 'rgba(239,83,80,0.7)' }
    }))
  },
  macdLine,
  lineSeries('Signal(9)', 1, pairs(tradeX, signal), '#ff7f0e', 4.5, null, 3),

  // --- %B panel
  fillSeries(2, beyond(bandX, pctB, 1, true), 'rgba(231,76,60,0.22)', 1),
  fillSeries(2, beyond(bandX, pctB, 0, false), 'rgba(39,174,96,0.22)', 1),
  pctBLine,
  lineSeries('%B = 1 (Upper)', 2, [], 'rgba(231,76,60,0.7)', 2.6, [8, 3.5], 2),
  lineSeries('%B = 0.5 (Mid)', 2, [], 'rgba(243,156,18,0.55)', 2.6, [2.2, 3.7], 2),
  lineSeries('%B = 0 (Lower)', 2, [], 'rgba(39,174,96,0.7)', 2.6, [8, 3.5], 2),

  // --- RSI panel
  fillSeries(3, beyond(rsiX, rsi, 70, true), 'rgba(231,76,60,0.25)', 1),
  fillSeries(3, beyond(rsiX, rsi, 30, false), 'rgba(39,174,96,0.25)', 1),
  rsiLine,
  lineSeries('Overbought (70)', 3, [], '#f23c3c', 3.3, [12, 5], 2),
  lineSeries('Oversold (30)', 3, [], '#2ca02c', 3.3, [12, 5], 2)
];

const option = {
  backgroundColor: '#ffffff',
  animation: false,
  textStyle: { fontFamily: "'DejaVu Sans', sans-serif" },
  title: {
    text: 'CBLL  \u2014  Bollinger Bands(20, 2.0)  +  MACD(12,26,9)  +  RSI(14)  \u2014  2026-07-31',
    left: 'center', top: 16,
    textStyle: { fontSize: 49, fontWeight: 'bold', color: '#000', fontFamily: "'DejaVu Sans', sans-serif" }
  },
  grid: gridBoxes.map(g => ({
    left: GRID_LEFT, right: GRID_RIGHT, top: g.top, height: g.height,
    show: true, borderColor: '#000', borderWidth: 2.2, backgroundColor: 'transparent',
    containLabel: false, outerBoundsMode: 'none'
  })),
  xAxis: xAxes,
  yAxis: yAxes,
  legend: [
    Object.assign({}, legendBase, {
      top: 56,
      data: [
        'Close Price', 'Upper (+2.0σ)', 'Middle (SMA 20)', 'Lower (-2.0σ)',
        { name: 'Band Range', icon: 'rect' }, { name: 'Above Upper', icon: 'circle' },
        { name: 'Below Lower', icon: 'circle' }
      ]
    }),
    Object.assign({}, legendBase, {
      top: 1866,
      data: ['MACD(12,26)', 'Signal(9)', { name: 'Histogram', icon: 'rect' }]
    }),
    Object.assign({}, legendBase, {
      top: 2974,
      data: ['%B', '%B = 1 (Upper)', '%B = 0.5 (Mid)', '%B = 0 (Lower)']
    }),
    Object.assign({}, legendBase, {
      top: 3614,
      data: ['RSI(14)', 'Overbought (70)', 'Oversold (30)']
    })
  ],
  series: series
};

// the chart is laid out in reference pixels, then fitted to the window
const box = document.getElementById('chart');
const sx = (window.innerWidth || W) / W;
const sy = (window.innerHeight || H) / H;
box.style.transform = 'scale(' + sx + ',' + sy + ')';

const chart = echarts.init(box, null, { renderer: 'canvas', width: W, height: H });
chart.setOption(option);
</script>
</body>
</html>
